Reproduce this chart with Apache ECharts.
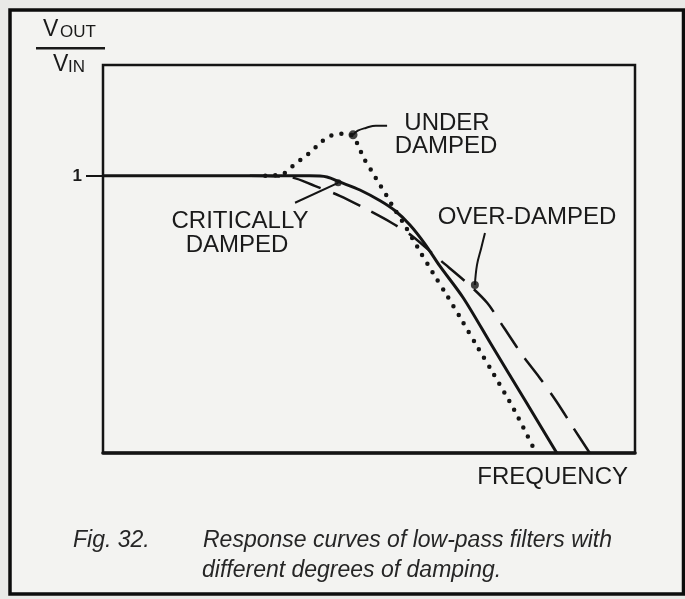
<!DOCTYPE html>
<html>
<head>
<meta charset="utf-8">
<title>Low-pass filter response</title>
<script src="https://cdn.jsdelivr.net/npm/echarts@6/dist/echarts.min.js"></script>
<style>
  html, body { margin: 0; padding: 0; background: #e9e9e7; }
  #chart { width: 685px; height: 599px; }
</style>
</head>
<body>
<div id="chart"></div>
<script>
// Relative response (Vout / Vin) against frequency, arbitrary linear frequency units 0..100
const yTicks = [1];

const criticallyDamped = [
  [0, 1.000], [38.9, 1.000], [42.1, 0.996], [44.5, 0.978], [48.3, 0.949],
  [52.1, 0.910], [54.9, 0.874], [57.7, 0.823], [60.5, 0.755], [63.3, 0.675],
  [67.7, 0.560], [72.9, 0.394], [79.3, 0.191], [85.3, 0.000]
];

const underDamped = [
  [30.5, 1.000], [33.8, 1.007], [35.7, 1.036], [37.6, 1.065], [39.3, 1.090],
  [40.8, 1.119], [42.7, 1.144], [44.9, 1.152], [47.0, 1.144], [47.9, 1.112],
  [49.1, 1.061], [50.6, 1.014], [51.7, 0.978], [53.0, 0.939], [54.3, 0.895],
  [56.8, 0.819], [59.2, 0.740], [62.0, 0.650], [64.7, 0.567], [67.5, 0.477],
  [70.5, 0.379], [73.3, 0.289], [77.3, 0.155], [81.4, 0.000]
];

const overDamped = [
  [27.6, 1.000], [35.2, 0.995], [39.8, 0.964], [44.5, 0.928], [49.4, 0.881],
  [54.3, 0.830], [58.1, 0.783], [63.3, 0.697], [68.4, 0.614], [72.2, 0.542],
  [75.4, 0.451], [78.8, 0.354], [82.1, 0.271], [85.3, 0.184], [88.3, 0.094],
  [91.5, 0.000]
];

// Leader lines from the labels to the curves (last point carries the dot)
const underLeader = [[53.4, 1.181], [51.3, 1.181], [49.4, 1.173], [47.9, 1.163], [47.0, 1.148]];
const criticalLeader = [[36.1, 0.903], [44.2, 0.975]];
const overLeader = [[71.8, 0.794], [71.1, 0.740], [70.3, 0.679], [69.9, 0.606]];

const ink = '#141414';
const labelFont = '"Liberation Sans", Arial, Helvetica, sans-serif';

const chart = echarts.init(document.getElementById('chart'), null, { renderer: 'canvas' });

function leader(data, dotSize) {
  return [
    {
      type: 'line', data: data, smooth: 0.4, symbol: 'none', silent: true,
      lineStyle: { color: ink, width: 2 }, z: 4
    },
    {
      type: 'scatter', data: [data[data.length - 1]], symbol: 'circle',
      symbolSize: dotSize, itemStyle: { color: ink }, silent: true, z: 5
    }
  ];
}

const labelText = (text, x, y, align) => ({
  type: 'text', x: x, y: y, silent: true,
  style: {
    text: text, fill: '#1a1a1a',
    font: '24px ' + labelFont, align: align || 'center', verticalAlign: 'middle'
  }
});

chart.setOption({
  animation: false,
  backgroundColor: '#e9e9e7',
  grid: {
    left: 103, top: 65, right: 50, bottom: 146,
    show: true, borderColor: ink, borderWidth: 2.5, backgroundColor: 'transparent'
  },
  xAxis: {
    type: 'value', min: 0, max: 100,
    axisLine: { show: true, onZero: false, lineStyle: { color: ink, width: 3.5 } },
    axisTick: { show: false }, axisLabel: { show: false }, splitLine: { show: false }
  },
  yAxis: {
    type: 'value', min: 0, max: 1.4,
    axisLine: { show: false },
    axisTick: { show: true, customValues: yTicks, length: 17, lineStyle: { color: ink, width: 2 } },
    axisLabel: {
      show: true, customValues: yTicks, margin: 21, color: '#1a1a1a',
      fontFamily: labelFont, fontSize: 17, fontWeight: 'bold'
    },
    splitLine: { show: false }
  },
  graphic: [
    // page frame
    {
      type: 'rect', shape: { x: 10, y: 10, width: 673.5, height: 584 }, z: -10,
      style: { fill: '#f3f3f1', stroke: '#0c0c0c', lineWidth: 3.5 }, silent: true
    },
    // Vout / Vin
    { type: 'text', x: 43, y: 30, style: { text: 'V', font: '23px ' + labelFont, fill: '#1a1a1a', verticalAlign: 'middle' } },
    { type: 'text', x: 60, y: 32.5, style: { text: 'OUT', font: '17px ' + labelFont, fill: '#1a1a1a', verticalAlign: 'middle' } },
    { type: 'rect', shape: { x: 36, y: 47, width: 69, height: 2.5 }, style: { fill: '#1a1a1a' } },
    { type: 'text', x: 53, y: 65, style: { text: 'V', font: '23px ' + labelFont, fill: '#1a1a1a', verticalAlign: 'middle' } },
    { type: 'text', x: 68, y: 67.5, style: { text: 'IN', font: '17px ' + labelFont, fill: '#1a1a1a', verticalAlign: 'middle' } },
    // curve labels
    labelText('UNDER', 447, 123),
    labelText('DAMPED', 446, 146),
    labelText('OVER-DAMPED', 527, 217),
    labelText('CRITICALLY', 240, 221),
    labelText('DAMPED', 237, 245),
    labelText('FREQUENCY', 628, 477, 'right'),
    // caption
    { type: 'text', x: 73, y: 541, style: { text: 'Fig. 32.', font: 'italic 23px ' + labelFont, fill: '#262626', verticalAlign: 'middle' } },
    { type: 'text', x: 203, y: 541, style: { text: 'Response curves of low-pass filters with', font: 'italic 23px ' + labelFont, fill: '#262626', verticalAlign: 'middle' } },
    { type: 'text', x: 202, y: 571, style: { text: 'different degrees of damping.', font: 'italic 23px ' + labelFont, fill: '#262626', verticalAlign: 'middle' } }
  ],
  series: [
    {
      name: 'Critically damped', type: 'line', data: criticallyDamped,
      smooth: 0.3, symbol: 'none', z: 3,
      lineStyle: { color: ink, width: 3 }
    },
    {
      name: 'Under damped', type: 'line', data: underDamped,
      smooth: 0.3, symbol: 'none', z: 2,
      lineStyle: { color: ink, width: 4.5, type: [0, 10], cap: 'round' }
    },
    {
      name: 'Over-damped', type: 'line', data: overDamped,
      smooth: 0.3, symbol: 'none', z: 2,
      lineStyle: { color: ink, width: 2.5, type: [30, 13] }
    },
    ...leader(underLeader, 9),
    ...leader(criticalLeader, 7),
    ...leader(overLeader, 8)
  ]
});
</script>
</body>
</html>
